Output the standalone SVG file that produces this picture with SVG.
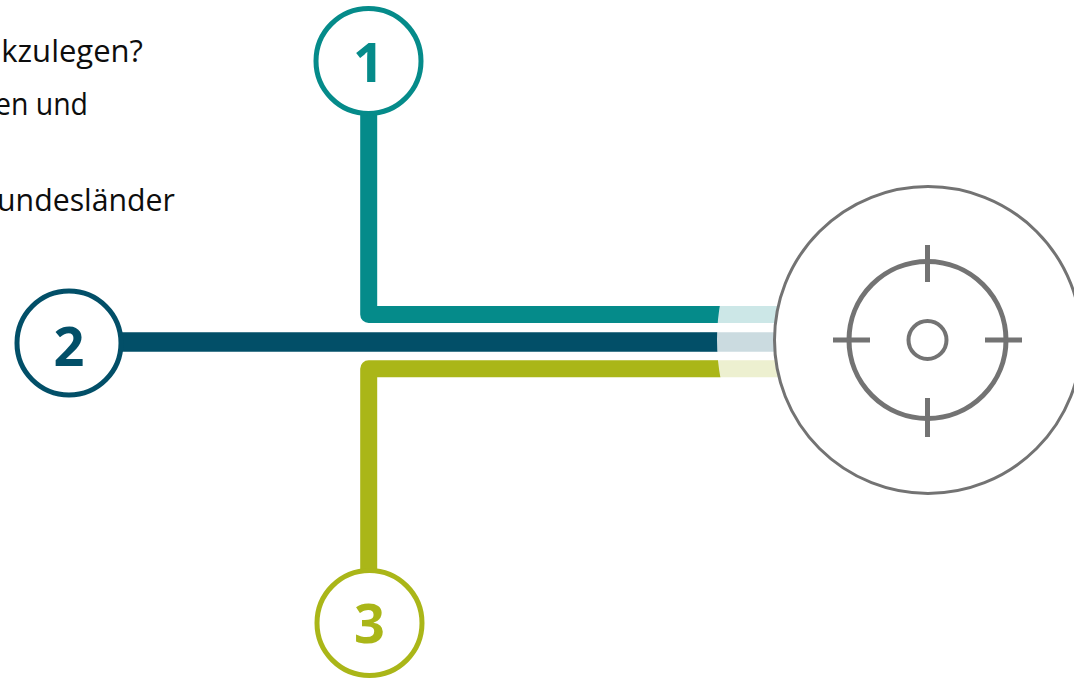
<svg xmlns="http://www.w3.org/2000/svg" width="1074" height="681" viewBox="0 0 1074 681">
<style>
.txt{font-family:"Open Sans","Liberation Sans",sans-serif;font-size:31px;fill:#0d0d0d;text-anchor:end}
.num{font-family:"Open Sans","Liberation Sans",sans-serif;font-weight:bold;font-size:54px;text-anchor:middle}
.ring{fill:#fff;stroke-width:5}
.ln{fill:none;stroke-linejoin:round}
.tg{fill:none;stroke:#737373}
</style>
<defs>
<clipPath id="outside">
<path clip-rule="evenodd" d="M0 0H1074V681H0Z M927 340m-210 0a210 210 0 1 0 420 0a210 210 0 1 0 -420 0Z"/>
</clipPath>
</defs>
<rect width="1074" height="681" fill="#fff"/>
<g id="text">
<text class="txt" x="143" y="62">kzulegen?</text>
<text class="txt" x="88" y="115" textLength="93" lengthAdjust="spacingAndGlyphs">en und</text>
<text class="txt" x="175" y="211" textLength="178" lengthAdjust="spacingAndGlyphs">undesländer</text>
</g>
<g id="connectors">
<g opacity="0.2">
<line x1="700" y1="314.5" x2="800" y2="314.5" stroke="#058B8A" stroke-width="17"/>
<line x1="700" y1="342" x2="800" y2="342" stroke="#024F68" stroke-width="19.5"/>
<line x1="700" y1="368.8" x2="800" y2="368.8" stroke="#AAB618" stroke-width="17"/>
</g>
<g clip-path="url(#outside)">
<path class="ln" d="M368.7 110V314.5H800" stroke="#058B8A" stroke-width="17"/>
<path class="ln" d="M115 342H800" stroke="#024F68" stroke-width="19.5"/>
<path class="ln" d="M368.7 575V368.8H800" stroke="#AAB618" stroke-width="17"/>
</g>
</g>
<g id="node1">
<circle class="ring" cx="368.5" cy="61" r="52.5" stroke="#058B8A"/>
<text class="num" x="368.5" y="82" fill="#058B8A">1</text>
</g>
<g id="node2">
<circle class="ring" cx="69" cy="343" r="52" stroke="#024F68"/>
<text class="num" x="69" y="366" fill="#024F68">2</text>
</g>
<g id="node3">
<circle class="ring" cx="369.5" cy="623" r="52.5" stroke="#AAB618"/>
<text class="num" x="369.5" y="643" fill="#AAB618">3</text>
</g>
<g id="target">
<circle cx="928" cy="340" r="153.5" fill="#fff" stroke="#737373" stroke-width="3"/>
<circle class="tg" cx="927.5" cy="340" r="78.5" stroke-width="5"/>
<circle class="tg" cx="927.5" cy="340" r="19" stroke-width="4"/>
<path class="tg" stroke-width="5" d="M927.5 245V282M927.5 398V437M833 340H870M985 340H1022"/>
</g>
</svg>
